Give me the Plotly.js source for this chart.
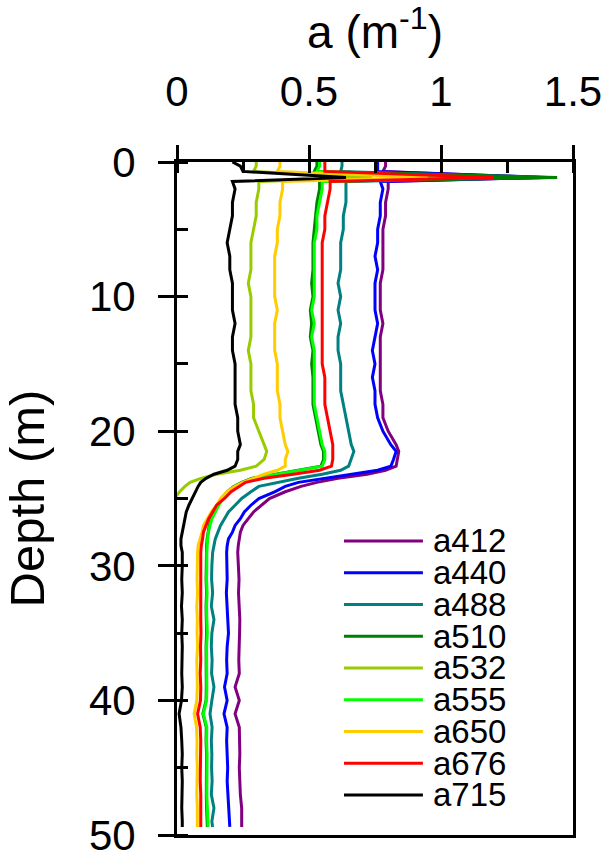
<!DOCTYPE html>
<html>
<head>
<meta charset="utf-8">
<script src="https://cdn.plot.ly/plotly-3.0.1.min.js"></script>
<style>
html,body{margin:0;padding:0;background:#fff;}
#chart{width:605px;height:856px;}
</style>
</head>
<body>
<div id="chart"></div>
<script>
// Depth (m) shared by all profiles
var depth = [0,0.3,0.7,1.15,1.45,
  2,3,4,5,6,7,8,9,10,11,12,13,14,15,16,17,18,19,20,21,
  21.5,22.1,22.6,22.9,23.2,23.5,23.8,24.1,24.5,25,25.5,26,26.5,27,27.5,28,28.5,29,
  30,31,32,33,34,35,36,37,38,39,40,41,42,43,44,45,46,47,48,49,49.4];

var seriesNames = ["a412","a440","a488","a510","a532","a555","a650","a676","a715"];
var seriesColors = ["#800080","#0000ff","#008080","#008000","#99cc00","#00ff00","#ffcc00","#ff0000","#000000"];

var a412 = [0.79,0.79,0.78,1.38,0.80,
  0.80,0.79,0.79,0.78,0.78,0.78,0.78,0.77,0.77,0.77,0.78,0.77,0.77,0.77,0.77,0.77,0.78,0.78,0.80,0.83,
  0.84,0.835,0.83,0.79,0.72,0.61,0.53,0.47,0.41,0.35,0.32,0.29,0.27,0.25,0.24,0.235,0.232,0.23,
  0.232,0.235,0.233,0.236,0.238,0.237,0.235,0.234,0.236,0.22,0.236,0.22,0.236,0.237,0.238,0.236,0.238,0.24,0.245,0.245,0.245];
var a440 = [0.76,0.76,0.76,1.40,0.77,
  0.78,0.77,0.77,0.76,0.76,0.75,0.76,0.75,0.75,0.75,0.76,0.75,0.74,0.75,0.74,0.75,0.75,0.76,0.78,0.81,
  0.83,0.82,0.81,0.76,0.66,0.55,0.46,0.41,0.37,0.31,0.28,0.255,0.24,0.22,0.21,0.195,0.19,0.188,
  0.188,0.19,0.187,0.19,0.193,0.195,0.19,0.188,0.19,0.18,0.19,0.178,0.19,0.188,0.19,0.192,0.19,0.193,0.195,0.2,0.2];
var a488 = [0.625,0.625,0.62,1.35,0.64,
  0.64,0.64,0.63,0.63,0.62,0.62,0.62,0.61,0.62,0.61,0.62,0.61,0.61,0.62,0.62,0.62,0.63,0.64,0.65,0.66,
  0.67,0.66,0.65,0.62,0.55,0.46,0.38,0.31,0.28,0.245,0.22,0.195,0.18,0.165,0.155,0.145,0.14,0.135,
  0.132,0.131,0.135,0.13,0.14,0.132,0.13,0.133,0.131,0.14,0.132,0.125,0.133,0.13,0.132,0.131,0.133,0.13,0.14,0.132,0.135];
var a510 = [0.53,0.53,0.52,1.44,0.54,
  0.54,0.53,0.525,0.52,0.515,0.515,0.515,0.51,0.515,0.505,0.51,0.505,0.515,0.51,0.515,0.515,0.515,0.525,0.535,0.545,
  0.555,0.555,0.545,0.46,0.37,0.285,0.245,0.215,0.19,0.17,0.155,0.142,0.13,0.122,0.117,0.114,0.112,0.111,
  0.111,0.11,0.112,0.11,0.111,0.112,0.11,0.111,0.11,0.111,0.11,0.098,0.111,0.11,0.112,0.111,0.11,0.111,0.112,0.113,0.115];
var a532 = [0.30,0.30,0.29,0.74,0.31,
  0.31,0.30,0.30,0.29,0.28,0.28,0.28,0.27,0.28,0.28,0.28,0.28,0.27,0.28,0.28,0.28,0.29,0.29,0.31,0.33,
  0.34,0.33,0.30,0.24,0.15,0.09,0.05,0.03,0.01,-0.01,-0.05,-0.05,-0.05,-0.05,-0.05,-0.05,-0.05,-0.05,
  -0.05,-0.05,-0.05,-0.05,-0.05,-0.05,-0.05,-0.05,-0.05,-0.05,-0.05,-0.05,-0.05,-0.05,-0.05,-0.05,-0.05,-0.05,-0.05,-0.05,-0.05];
var a555 = [0.54,0.54,0.53,1.12,0.55,
  0.55,0.54,0.53,0.53,0.52,0.52,0.52,0.52,0.52,0.51,0.52,0.51,0.52,0.52,0.52,0.52,0.52,0.53,0.54,0.55,
  0.56,0.56,0.55,0.47,0.38,0.29,0.25,0.22,0.195,0.175,0.158,0.145,0.132,0.125,0.119,0.116,0.114,0.113,
  0.113,0.112,0.114,0.112,0.113,0.115,0.112,0.113,0.112,0.113,0.112,0.100,0.113,0.112,0.114,0.113,0.112,0.113,0.115,0.116,0.118];
var a650 = [0.39,0.39,0.38,0.95,0.40,
  0.40,0.39,0.39,0.38,0.38,0.37,0.37,0.37,0.37,0.38,0.37,0.37,0.37,0.38,0.38,0.38,0.39,0.39,0.40,0.41,
  0.42,0.41,0.41,0.38,0.33,0.29,0.25,0.22,0.19,0.165,0.15,0.13,0.115,0.10,0.095,0.088,0.08,0.078,
  0.077,0.076,0.078,0.075,0.077,0.076,0.078,0.075,0.076,0.077,0.075,0.065,0.074,0.076,0.075,0.077,0.076,0.075,0.077,0.076,0.077];
var a676 = [0.56,0.56,0.56,1.20,0.58,
  0.58,0.57,0.56,0.56,0.55,0.55,0.55,0.55,0.55,0.55,0.55,0.55,0.55,0.55,0.56,0.56,0.56,0.57,0.58,0.59,
  0.59,0.59,0.585,0.54,0.44,0.33,0.26,0.235,0.205,0.18,0.15,0.135,0.12,0.11,0.10,0.097,0.092,0.09,
  0.09,0.089,0.09,0.088,0.09,0.091,0.089,0.09,0.088,0.09,0.089,0.078,0.088,0.09,0.089,0.09,0.088,0.09,0.089,0.09,0.09];
var a715 = [0.21,0.24,0.25,0.64,0.21,
  0.22,0.21,0.21,0.20,0.19,0.20,0.20,0.21,0.21,0.21,0.22,0.21,0.21,0.22,0.22,0.22,0.22,0.23,0.23,0.24,
  0.23,0.23,0.22,0.19,0.14,0.11,0.09,0.08,0.07,0.055,0.045,0.035,0.03,0.025,0.02,0.015,0.015,0.02,
  0.02,0.018,0.02,0.017,0.02,0.018,0.02,0.019,0.018,0.02,0.017,0.008,0.015,0.018,0.02,0.018,0.02,0.019,0.018,0.02,0.02];

var seriesValues = [a412,a440,a488,a510,a532,a555,a650,a676,a715];

var FONT = "Liberation Sans, Arial, Helvetica, sans-serif";

var traces = seriesNames.map(function(n,i){
  return {
    type:"scatter", mode:"lines", name:n,
    x: seriesValues[i], y: depth,
    line:{color:seriesColors[i], width:3},
    showlegend:false, hoverinfo:"skip"
  };
});
// empty helper trace so the overlay axis (inner half of major y ticks) is drawn
traces.push({type:"scatter", mode:"lines", x:[], y:[], yaxis:"y2", showlegend:false, hoverinfo:"skip"});

// custom legend (long line samples, tight rows)
var shapes = [], annotations = [];
var legX0 = 0.4217, legX1 = 0.621, legTx = 0.642, legY0 = 0.4369, legDy = 0.04718;
seriesNames.forEach(function(n,i){
  var yy = legY0 - i*legDy;
  shapes.push({type:"line", xref:"paper", yref:"paper", x0:legX0, x1:legX1, y0:yy, y1:yy,
               line:{color:seriesColors[i], width:3}});
  annotations.push({xref:"paper", yref:"paper", x:legTx, y:yy, xanchor:"left", yanchor:"middle",
                    text:n, showarrow:false, font:{family:FONT, size:33, color:"#000"}});
});

var layout = {
  width:605, height:856,
  margin:{l:177, r:32, t:162, b:21},
  paper_bgcolor:"#fff", plot_bgcolor:"#fff",
  font:{family:FONT, color:"#000"},
  showlegend:false,
  xaxis:{
    side:"top", range:[0,1.5], dtick:0.5, tick0:0,
    ticks:"outside", ticklen:14, tickwidth:3, tickcolor:"#000",
    minor:{ticks:"inside", dtick:0.25, tick0:0, ticklen:11, tickwidth:3, tickcolor:"#000"},
    showline:true, linewidth:3, linecolor:"#000", mirror:true,
    showgrid:false, zeroline:false,
    tickfont:{family:FONT, size:42, color:"#000"},
    ticklabelstandoff:22, ticklabeloverflow:"allow",
    title:{text:"a (m<sup>-1</sup>)", font:{family:FONT, size:46, color:"#000"}, standoff:18}
  },
  yaxis:{
    range:[50,0], dtick:10, tick0:0,
    ticks:"outside", ticklen:16, tickwidth:3, tickcolor:"#000",
    minor:{ticks:"inside", dtick:5, tick0:0, ticklen:11, tickwidth:3, tickcolor:"#000"},
    showline:true, linewidth:3, linecolor:"#000", mirror:true,
    showgrid:false, zeroline:false,
    tickfont:{family:FONT, size:42, color:"#000"},
    ticklabelstandoff:14, ticklabeloverflow:"allow",
    title:{text:"Depth (m)", font:{family:FONT, size:49, color:"#000"}, standoff:30}
  },
  yaxis2:{
    overlaying:"y", side:"left", anchor:"x", range:[50,0], dtick:10, tick0:0,
    ticks:"inside", ticklen:11, tickwidth:3, tickcolor:"#000",
    showticklabels:false, showline:false, showgrid:false, zeroline:false
  },
  shapes:shapes,
  annotations:annotations
};

Plotly.newPlot("chart", traces, layout, {staticPlot:true, displayModeBar:false});
</script>
</body>
</html>
